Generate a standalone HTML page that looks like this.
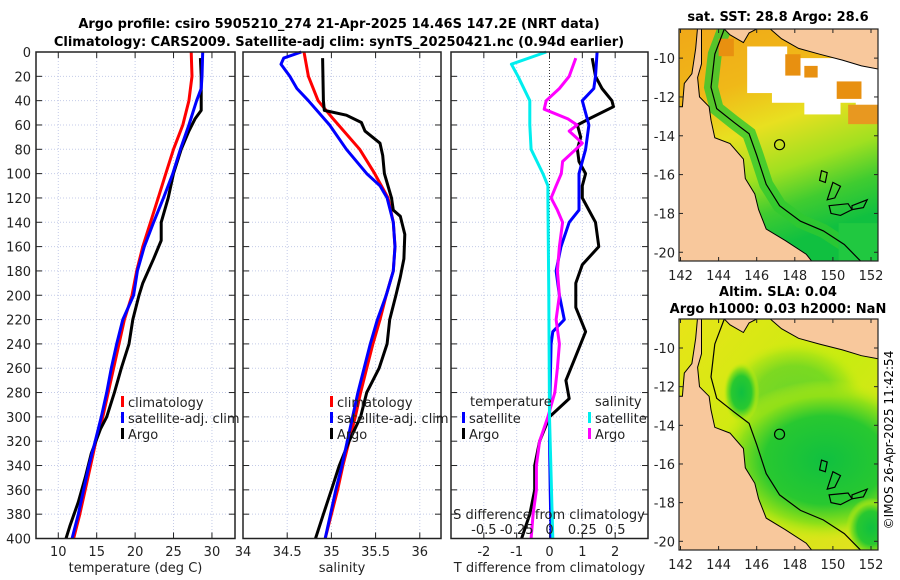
<!DOCTYPE html>
<html><head><meta charset="utf-8"><style>
html,body{margin:0;padding:0;background:#fff;}
svg{display:block;font-family:"DejaVu Sans","Liberation Sans",sans-serif;}
</style></head><body>
<svg id="fig" width="900" height="580" viewBox="0 0 900 580" xmlns="http://www.w3.org/2000/svg">
<text x="339" y="28" font-size="13" font-weight="bold" text-anchor="middle">Argo profile: csiro 5905210_274 21-Apr-2025 14.46S 147.2E (NRT data)</text>
<text x="339" y="46" font-size="13" font-weight="bold" text-anchor="middle">Climatology: CARS2009. Satellite-adj clim: synTS_20250421.nc (0.94d earlier)</text>
<g id="p1"></g>
<g id="p2"></g>
<g id="p3"></g>
<g id="m1"></g>
<g id="m2"></g>
<text x="778" y="21" font-size="13" font-weight="bold" text-anchor="middle">sat. SST: 28.8 Argo: 28.6</text>
<text x="778" y="296" font-size="13" font-weight="bold" text-anchor="middle">Altim. SLA: 0.04</text>
<text x="778" y="313" font-size="13" font-weight="bold" text-anchor="middle">Argo h1000: 0.03 h2000: NaN</text>
<text transform="translate(893,440) rotate(-90)" font-size="12" text-anchor="middle">©IMOS 26-Apr-2025 11:42:54</text>
</svg>
<script>
// ---- data ----
const tDepthClim = [0,20,40,60,80,100,120,140,160,180,200,220,240,260,280,300,320,340,360,380,400];
const tempClim = [27.3,27.4,27.0,26.2,25.0,24.0,23.0,22.0,21.0,20.2,19.6,18.6,17.9,17.2,16.5,15.8,14.9,14.2,13.5,12.8,12.0];
const tDepthSat = [0,20,30,40,60,80,100,120,140,160,180,200,220,240,260,280,300,320,340,360,380,400];
const tempSat = [28.8,28.7,28.6,28.0,27.0,25.9,24.9,23.7,22.4,21.2,20.3,19.8,18.4,17.6,16.9,16.3,15.6,14.8,14.0,13.3,12.6,11.8];
const tDepthArgo = [5,20,40,48,55,65,80,100,120,140,155,170,190,200,220,240,260,280,300,310,330,350,370,390,400];
const tempArgo = [28.5,28.6,28.6,28.6,27.8,27.0,26.0,25.0,24.3,23.4,23.4,22.4,21.0,20.5,19.7,19.2,18.2,17.3,16.3,15.5,14.3,13.5,12.6,11.5,11.0];
const sDepthClim = [0,20,40,55,80,100,120,140,160,180,200,220,240,260,280,300,320,340,360,380,400];
const salClim = [34.69,34.74,34.85,35.02,35.32,35.49,35.64,35.70,35.72,35.70,35.62,35.55,35.47,35.40,35.33,35.27,35.20,35.13,35.07,35.00,34.93];
const sDepthSat = [0,5,10,20,30,40,60,80,100,110,120,140,160,180,200,220,240,260,280,300,320,340,360,380,400];
const salSat = [34.66,34.46,34.43,34.53,34.61,34.74,34.98,35.17,35.40,35.55,35.63,35.70,35.72,35.70,35.62,35.52,35.44,35.37,35.30,35.24,35.18,35.12,35.05,34.99,34.93];
const sDepthArgo = [5,40,48,52,58,65,75,85,100,120,130,135,150,170,185,200,220,240,260,280,300,320,340,360,380,400];
const salArgo = [34.90,34.91,34.92,35.17,35.34,35.38,35.55,35.58,35.60,35.68,35.70,35.78,35.83,35.82,35.78,35.73,35.66,35.63,35.54,35.40,35.33,35.20,35.09,35.00,34.91,34.82];
const dDepthTSat = [0,20,30,40,60,80,100,120,130,140,160,180,200,220,230,240,300,320,360,400];
const dTempSat = [1.45,1.4,1.35,1.0,1.2,1.1,0.9,0.9,0.9,0.6,0.35,0.2,0.3,0.45,0.1,0.05,0.0,0.0,0.02,0.05];
const dDepthTArgo = [5,20,30,40,45,55,60,70,80,90,100,110,120,130,140,160,175,190,210,230,250,270,285,300,320,340,360,380,400];
const dTempArgo = [1.3,1.4,1.6,1.9,1.95,1.2,0.85,0.95,0.85,0.9,1.1,1.0,1.0,1.2,1.4,1.5,1.0,0.8,0.8,1.1,0.8,0.5,0.6,0.0,-0.3,-0.45,-0.45,-0.6,-0.85];
const dDepthSSat = [0,10,20,40,60,80,100,110,120,200,300,400];
const dSalSat = [-0.025,-0.29,-0.24,-0.15,-0.15,-0.14,-0.05,-0.012,-0.012,-0.005,0.0,0.025];
const dDepthSArgo = [5,20,30,40,47,55,60,65,70,75,80,90,100,110,120,130,140,160,180,200,220,240,260,280,300,320,340,360,380,400];
const dSalArgo = [0.2,0.15,0.075,-0.025,-0.04,0.14,0.21,0.15,0.2,0.25,0.2,0.1,0.09,0.05,0.012,0.06,0.1,0.075,0.06,0.075,0.05,0.075,0.06,0.04,-0.012,-0.075,-0.1,-0.1,-0.125,-0.14];
const depthTicks = [0,20,40,60,80,100,120,140,160,180,200,220,240,260,280,300,320,340,360,380,400];
const tempTicks = [10,15,20,25,30];
const salTicks = [34,34.5,35,35.5,36];
const salTickLabels = ["34","34.5","35","35.5","36"];
const dTTicks = [-2,-1,0,1,2];
const dSTicks = [-0.5,-0.25,0,0.25,0.5];
const lonTicks = [142,144,146,148,150,152];
const latTicks = [-10,-12,-14,-16,-18,-20];

const NS="http://www.w3.org/2000/svg";
function mk(parent,tag,attrs,txt){const e=document.createElementNS(NS,tag);for(const k in attrs)e.setAttribute(k,attrs[k]);if(txt!==undefined)e.textContent=txt;parent.appendChild(e);return e;}
const Y0=52,Y1=538.5;
const yD=d=>Y0+d*(Y1-Y0)/400;

function panel(g,x0,x1,dmin,dmax,ticks,labels,title,showY){
  const sx=v=>x0+(v-dmin)*(x1-x0)/(dmax-dmin);
  depthTicks.forEach(d=>{
    const l=mk(g,'line',{x1:x0,x2:x1,y1:yD(d),y2:yD(d),stroke:'#c4cbe8','stroke-width':1,'stroke-dasharray':'1,2'});
    
    
    mk(g,'line',{x1:x0,x2:x0+6,y1:yD(d),y2:yD(d),stroke:'#222'});
    mk(g,'line',{x1:x1-6,x2:x1,y1:yD(d),y2:yD(d),stroke:'#222'});
    if(showY){const t=mk(g,'text',{x:x0-5,y:yD(d)+5,'font-size':13,'text-anchor':'end',fill:'#222'},String(d));
      
      }
  });
  ticks.forEach((v,i)=>{
    const l=mk(g,'line',{x1:sx(v),x2:sx(v),y1:Y0,y2:Y1,stroke:'#c4cbe8','stroke-width':1,'stroke-dasharray':'1,2'});
    
    
    mk(g,'line',{x1:sx(v),x2:sx(v),y1:Y1-6,y2:Y1,stroke:'#222'});
    mk(g,'line',{x1:sx(v),x2:sx(v),y1:Y0,y2:Y0+6,stroke:'#222'});
    const t=mk(g,'text',{x:sx(v),y:556,'font-size':13,'text-anchor':'middle',fill:'#222'},labels[i]);
    
    
  });
  const tt=mk(g,'text',{x:(x0+x1)/2,y:572,'font-size':13,'text-anchor':'middle',fill:'#222'},title);
  
  
  return sx;
}
function frame(g,x0,x1){const r=mk(g,'rect',{x:x0,y:Y0,width:x1-x0,height:Y1-Y0,fill:'none',stroke:'#222','stroke-width':1.5});
  
  }
function series(g,sx,depths,vals,color,name,w){
  const pts=depths.map((d,i)=>sx(vals[i]).toFixed(1)+','+yD(d).toFixed(1)).join(' ');
  const p=mk(g,'polyline',{points:pts,fill:'none',stroke:color,'stroke-width':w||3,'stroke-linejoin':'round'});
  
  
}
function legend(g,x,y,color,label,name){
  mk(g,'rect',{x:x,y:y-6,width:3,height:11,fill:color});
  const t=mk(g,'text',{x:x+7,y:y+5,'font-size':13,fill:'#222'},label);
  
  
}
// Panel 1
const g1=document.getElementById('p1');
const s1=panel(g1,36,235,7.1,33,tempTicks,tempTicks.map(String),'temperature (deg C)',true);
series(g1,s1,tDepthClim,tempClim,'#f00','temp-climatology-line');
series(g1,s1,tDepthArgo,tempArgo,'#000','temp-argo-line');
series(g1,s1,tDepthSat,tempSat,'#00f','temp-satellite-line');
legend(g1,121,402,'#f00','climatology','legend-climatology');
legend(g1,121,418,'#00f','satellite-adj. clim','legend-satellite');
legend(g1,121,434,'#000','Argo','legend-argo');
frame(g1,36,235);
// Panel 2
const g2=document.getElementById('p2');
const s2=panel(g2,243,441,34,36.24,salTicks,salTickLabels,'salinity',false);
series(g2,s2,sDepthClim,salClim,'#f00','sal-climatology-line');
series(g2,s2,sDepthArgo,salArgo,'#000','sal-argo-line');
series(g2,s2,sDepthSat,salSat,'#00f','sal-satellite-line');
legend(g2,330,402,'#f00','climatology','legend-climatology');
legend(g2,330,418,'#00f','satellite-adj. clim','legend-satellite');
legend(g2,330,434,'#000','Argo','legend-argo');
frame(g2,243,441);
// Panel 3
const g3=document.getElementById('p3');
const s3=panel(g3,451,648,-3,3,dTTicks,dTTicks.map(String),'T difference from climatology',false);
const sS=v=>s3(v*4);
mk(g3,'line',{x1:s3(0),x2:s3(0),y1:Y0,y2:Y1,stroke:'#333','stroke-width':1,'stroke-dasharray':'1,2'});
series(g3,s3,dDepthTArgo,dTempArgo,'#000','dtemp-argo-line');
series(g3,s3,dDepthTSat,dTempSat,'#00f','dtemp-satellite-line');
series(g3,sS,dDepthSArgo,dSalArgo,'#f0f','dsal-argo-line');
series(g3,sS,dDepthSSat,dSalSat,'#0ee','dsal-satellite-line');
mk(g3,'text',{x:470,y:406,'font-size':13,fill:'#222'},'temperature');
mk(g3,'text',{x:595,y:406,'font-size':13,fill:'#222'},'salinity');
legend(g3,462,418,'#00f','satellite','legend-temp-satellite');
legend(g3,462,434,'#000','Argo','legend-temp-argo');
legend(g3,588,418,'#0ee','satellite','legend-sal-satellite');
legend(g3,588,434,'#f0f','Argo','legend-sal-argo');
const st=mk(g3,'text',{x:549,y:519,'font-size':13,'text-anchor':'middle',fill:'#222'},'S difference from climatology');


dSTicks.forEach(v=>{const t=mk(g3,'text',{x:sS(v),y:534,'font-size':13,'text-anchor':'middle',fill:'#222'},String(v));
  
  });
frame(g3,451,648);

// Maps
const land=[[141.8,-8.4],[142.9,-8.4],[142.8,-9.5],[142.6,-10.8],[142.2,-11.3],[142.1,-12.5],[141.8,-12.5],[141.8,-20.6],[149,-20.6],[148.6,-20.1],[147.5,-19.4],[146.5,-18.8],[146.1,-17.8],[145.9,-17],[145.4,-16.2],[145.3,-15.2],[144.6,-14.4],[143.8,-14.1],[143.6,-13.2],[143.5,-12.5],[143.0,-12.0],[142.9,-11.0],[143.1,-10.3],[143.1,-8.4]];
const png1=[[144.2,-8.4],[144.6,-8.8],[145.3,-9.2],[145.6,-8.7],[146.2,-8.4]];
const png2=[[146.6,-8.4],[147.3,-9.0],[148.2,-9.5],[149.3,-9.8],[150.5,-10.1],[151.5,-10.4],[152.6,-10.6],[152.6,-8.4]];
const shelf=[[144.3,-8.5],[143.8,-9.8],[143.6,-11.5],[143.9,-12.6],[144.8,-13.3],[145.6,-13.9],[146,-15],[146.5,-16.5],[147.2,-17.6],[148.3,-18.4],[149.5,-18.9],[150.6,-19.6],[151.5,-20.5]];
const islands=[[[149.4,-15.8],[149.7,-15.9],[149.6,-16.4],[149.3,-16.3]],[[150.0,-16.4],[150.4,-16.6],[150.1,-17.2],[149.7,-17.3]],[[149.8,-17.6],[150.8,-17.5],[151.0,-17.8],[150.4,-18.1],[149.9,-18.0]],[[151.0,-17.6],[151.8,-17.3],[151.6,-17.7],[151.0,-17.8]]];
function drawMap(g,top,bot,kind){
  const x0=679,x1=878,lonA=142,pxA=680.5,pxPer=19.05;
  const mx=l=>pxA+(l-lonA)*pxPer;
  const latTop=-8.5,latBot=-20.45;
  const my=l=>top+(latTop-l)*(bot-top)/(latTop-latBot);
  const id='c'+kind;
  const defs=mk(g,'defs',{});
  const cp=mk(defs,'clipPath',{id:id});mk(cp,'rect',{x:x0,y:top,width:x1-x0,height:bot-top});
  const inner=mk(g,'g',{'clip-path':'url(#'+id+')'});
  const P=a=>a.map(p=>mx(p[0]).toFixed(1)+','+my(p[1]).toFixed(1)).join(' ');
  if(kind==='sst'){
    const lg=mk(defs,'linearGradient',{id:'gs',x1:0,y1:0,x2:0.3,y2:1});
    [[0,'#f0a818'],[0.3,'#f0b818'],[0.5,'#e8e020'],[0.7,'#a0e020'],[0.85,'#40cc30'],[1,'#10c040']].forEach(s=>mk(lg,'stop',{offset:s[0],'stop-color':s[1]}));
    const o=mk(inner,'rect',{x:x0,y:top,width:x1-x0,height:bot-top,fill:'url(#gs)'});
    
    
    mk(inner,'polyline',{points:P(shelf),fill:'none',stroke:'#30c830','stroke-width':14,opacity:0.8});
    [[145.5,-9.4,147.6,-11.8],[146.8,-10.0,152.6,-12.3],[148.5,-11.5,150.4,-12.9],[151.2,-11.8,152.6,-12.8]].forEach(r=>mk(inner,'rect',{x:mx(r[0]),y:my(r[1]),width:mx(r[2])-mx(r[0]),height:my(r[3])-my(r[1]),fill:'#fff'}));
    [[150.2,-11.2,151.5,-12.1],[147.5,-9.8,148.3,-10.9],[144.0,-9.0,144.8,-9.9],[148.5,-10.4,149.2,-11.0]].forEach(r=>mk(inner,'rect',{x:mx(r[0]),y:my(r[1]),width:mx(r[2])-mx(r[0]),height:my(r[3])-my(r[1]),fill:'#e89010'}));
    mk(inner,'rect',{x:mx(150.8),y:my(-12.4),width:mx(152.6)-mx(150.8),height:my(-13.4)-my(-12.4),fill:'#e89820'});
    mk(inner,'rect',{x:mx(150.3),y:my(-18.5),width:mx(152.6)-mx(150.3),height:my(-20.5)-my(-18.5),fill:'#20c840'});
  } else {
    const lb=mk(defs,'linearGradient',{id:'gb',x1:0,y1:0,x2:1,y2:1});
    [[0,'#e8e418'],[0.5,'#c8ec10'],[1,'#e4e020']].forEach(s=>mk(lb,'stop',{offset:s[0],'stop-color':s[1]}));
    mk(inner,'rect',{x:x0,y:top,width:x1-x0,height:bot-top,fill:'url(#gb)'});
    const rg=mk(defs,'radialGradient',{id:'gg'});
    [[0,'#10c040'],[0.55,'#28c830'],[0.8,'#90e018'],[1,'rgba(200,236,16,0)']].forEach(s=>mk(rg,'stop',{offset:s[0],'stop-color':s[1]}));
    mk(inner,'ellipse',{cx:mx(148),cy:my(-12.5),rx:70,ry:55,fill:'url(#gg)',opacity:0.5});
    const e=mk(inner,'ellipse',{cx:mx(149.6),cy:my(-15.8),rx:110,ry:80,fill:'url(#gg)'});
    
    
    mk(inner,'ellipse',{cx:mx(145.2),cy:my(-12.3),rx:18,ry:30,fill:'url(#gg)'});
    mk(inner,'ellipse',{cx:mx(152),cy:my(-19.3),rx:25,ry:30,fill:'url(#gg)'});
  }
  const l=mk(inner,'polygon',{points:P(land),fill:'#f8c89c',stroke:'#000','stroke-width':1});
  
  
  mk(inner,'polygon',{points:P(png1),fill:'#f8c89c',stroke:'#000','stroke-width':1});
  mk(inner,'polygon',{points:P(png2),fill:'#f8c89c',stroke:'#000','stroke-width':1});
  mk(inner,'polyline',{points:P(shelf),fill:'none',stroke:'#000','stroke-width':1.2});
  islands.forEach(a=>mk(inner,'polygon',{points:P(a),fill:'none',stroke:'#000','stroke-width':1.2}));
  const c=mk(inner,'circle',{cx:mx(147.2),cy:my(-14.46),r:5,fill:'none',stroke:'#000','stroke-width':1.2});
  
  
  mk(g,'rect',{x:x0,y:top,width:x1-x0,height:bot-top,fill:'none',stroke:'#222','stroke-width':1.2});
  lonTicks.forEach(v=>{mk(g,'line',{x1:mx(v),x2:mx(v),y1:bot,y2:bot-4,stroke:'#222'});mk(g,'line',{x1:mx(v),x2:mx(v),y1:top,y2:top+4,stroke:'#222'});
    const t=mk(g,'text',{x:mx(v),y:bot+19,'font-size':13,'text-anchor':'middle',fill:'#222'},String(v));
    
    });
  latTicks.forEach(v=>{mk(g,'line',{x1:x1,x2:x1-4,y1:my(v),y2:my(v),stroke:'#222'});mk(g,'line',{x1:x0,x2:x0+4,y1:my(v),y2:my(v),stroke:'#222'});
    const t=mk(g,'text',{x:x0-4,y:my(v)+5,'font-size':13,'text-anchor':'end',fill:'#222'},String(v));
    
    });
}
drawMap(document.getElementById('m1'),29,261,'sst');
drawMap(document.getElementById('m2'),319,550,'sla');
</script>
</body></html>
